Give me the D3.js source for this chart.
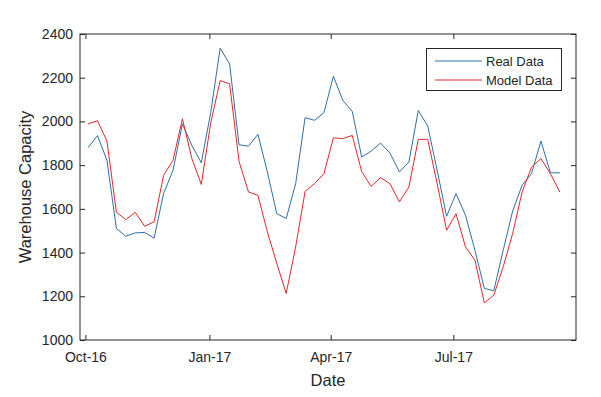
<!DOCTYPE html>
<html><head><meta charset="utf-8">
<script src="https://cdn.jsdelivr.net/npm/d3@7"></script>
<style>body{margin:0;background:#fff}svg{display:block}text{font-family:"Liberation Sans",Arial,sans-serif;fill:#262626}</style>
</head><body><div id="chart"></div>
<script>
const startDate = "2016-10-03"; // weekly samples
const realData = [1880,1935,1822,1510,1475,1490,1492,1466,1670,1776,1989,1890,1811,2041,2335,2263,1893,1887,1941,1769,1578,1556,1715,2017,2005,2040,2207,2096,2046,1837,1864,1901,1855,1769,1814,2050,1979,1776,1566,1670,1571,1411,1236,1225,1411,1590,1708,1761,1910,1765,1765];
const modelData = [1989,2003,1910,1584,1551,1584,1520,1541,1753,1822,2012,1830,1712,1994,2187,2172,1817,1677,1662,1495,1350,1213,1426,1680,1715,1761,1925,1921,1936,1770,1703,1743,1715,1632,1700,1918,1918,1715,1502,1578,1426,1365,1170,1205,1335,1487,1677,1791,1830,1761,1677];
const xTicks = ["2016-10-01","2017-01-01","2017-04-01","2017-07-01"];
const yTicks = [1000,1200,1400,1600,1800,2000,2200,2400];
const seriesNames = ["Real Data","Model Data"];
const colors = ["#2f6ea8","#e3262b"];

const W=601,H=397, m={l:80,t:34,r:25,b:57};
const parse=d3.utcParse("%Y-%m-%d");
const t0=parse(startDate);
const dates=realData.map((_,i)=>d3.utcDay.offset(t0,7*i));
const svg=d3.select("#chart").append("svg").attr("width",W).attr("height",H);
const x=d3.scaleUtc().domain([parse("2016-09-27"),parse("2017-09-30")]).range([m.l,W-m.r]);
const y=d3.scaleLinear().domain([1000,2400]).range([H-m.b,m.t]);
const fmt=d3.utcFormat("%b-%y");
const tv=xTicks.map(parse);

const g=svg.append("g");
g.append("rect").attr("x",m.l).attr("y",m.t).attr("width",W-m.r-m.l).attr("height",H-m.b-m.t).attr("fill","none").attr("stroke","#262626").attr("stroke-width",1);
const xb=svg.append("g").attr("transform",`translate(0,${H-m.b})`).call(d3.axisBottom(x).tickValues(tv).tickFormat(fmt).tickSizeInner(-5).tickSizeOuter(0).tickPadding(12));
const xt=svg.append("g").attr("transform",`translate(0,${m.t})`).call(d3.axisTop(x).tickValues(tv).tickFormat("").tickSizeInner(-5).tickSizeOuter(0));
const yl=svg.append("g").attr("transform",`translate(${m.l},0)`).call(d3.axisLeft(y).tickValues(yTicks).tickSizeInner(-5).tickSizeOuter(0).tickPadding(7).tickFormat(d3.format("d")));
const yr=svg.append("g").attr("transform",`translate(${W-m.r},0)`).call(d3.axisRight(y).tickValues(yTicks).tickFormat("").tickSizeInner(-5).tickSizeOuter(0));
[xb,xt,yl,yr].forEach(a=>{a.select(".domain").remove();a.selectAll("line").attr("stroke","#262626");a.selectAll("text").attr("font-size",14).attr("fill","#262626").attr("font-family","Liberation Sans, Arial, sans-serif");});

const line=d3.line().x((d,i)=>x(dates[i])).y(d=>y(d));
[realData,modelData].forEach((s,k)=>{
  svg.append("path").datum(s).attr("d",line).attr("fill","none").attr("stroke",colors[k]).attr("stroke-width",1);
});

svg.append("text").attr("x",(m.l+W-m.r)/2).attr("y",386).attr("text-anchor","middle").attr("font-size",16.5).text("Date");
svg.append("text").attr("transform",`translate(31,${(m.t+H-m.b)/2}) rotate(-90)`).attr("text-anchor","middle").attr("font-size",16.5).text("Warehouse Capacity");

const lg=svg.append("g");
lg.append("rect").attr("x",426.5).attr("y",48.5).attr("width",135).attr("height",42).attr("fill","#fff").attr("stroke","#262626");
seriesNames.forEach((n,i)=>{
  const yy=61+i*19;
  lg.append("line").attr("x1",435).attr("x2",482).attr("y1",yy).attr("y2",yy).attr("stroke",colors[i]);
  lg.append("text").attr("x",486).attr("y",yy+4.5).attr("font-size",13).text(n);
});
</script></body></html>
